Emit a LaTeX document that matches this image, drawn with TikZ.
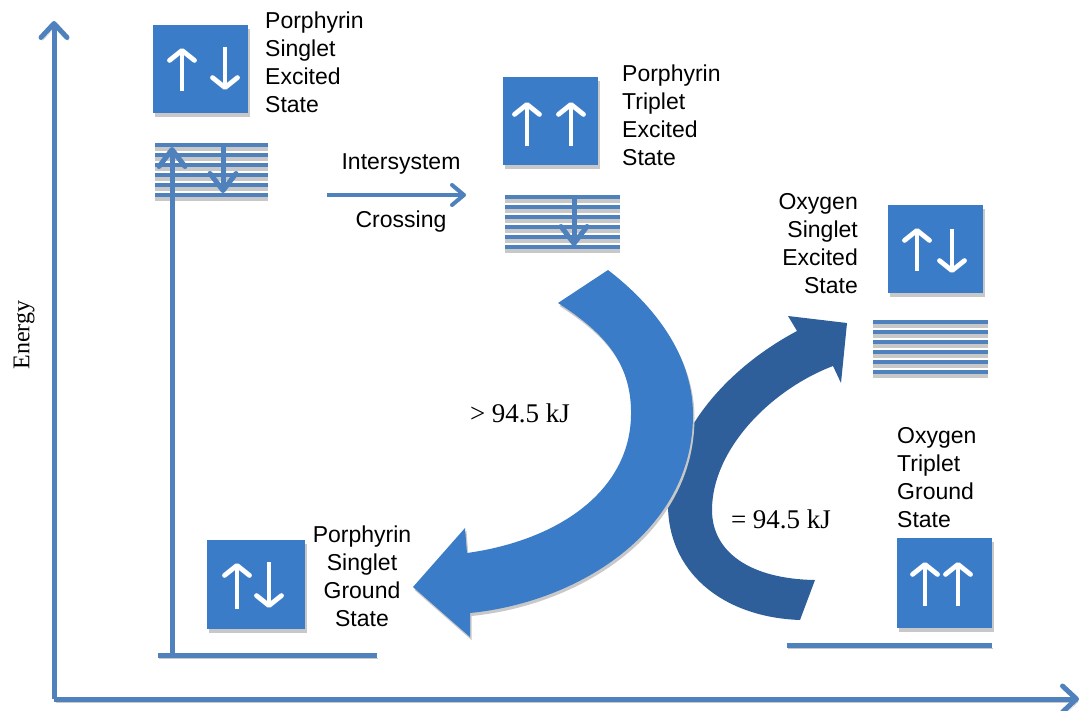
\documentclass[tikz,border=0pt]{standalone}
\usepackage{fontspec}
\setmainfont{Liberation Sans}
\newfontfamily\tms{Liberation Serif}
\usetikzlibrary{arrows.meta}
\definecolor{boxblue}{RGB}{59,124,200}
\definecolor{lineblue}{RGB}{79,129,189}
\definecolor{darkarrow}{RGB}{46,95,154}
\definecolor{shd}{RGB}{200,200,200}
\begin{document}
\begin{tikzpicture}[x=1pt,y=-1pt,
  box/.style={fill=boxblue, draw=none, minimum width=95pt, minimum height=88pt, inner sep=0pt,
    preaction={fill=shd, transform canvas={shift={(2,4)}}}},
  wa/.style={white, line width=4.8pt, -{Straight Barb[length=10pt,width=25pt,round]}},
  axis/.style={lineblue, line width=5pt, -{Straight Barb[length=14pt,width=26pt,round]},
    preaction={draw=shd, transform canvas={shift={(1.5,3)}}}},
  barrow/.style={lineblue, line width=5pt, -{Straight Barb[length=17pt,width=26pt,round]}},
  gline/.style={lineblue, line width=5pt, preaction={draw=shd, transform canvas={shift={(1,3.5)}}}},
  lbl/.style={font=\fontsize{23}{28}\selectfont, inner sep=0pt},
  kj/.style={font=\tms\fontsize{27}{30}\selectfont, inner sep=0pt}
]
\useasboundingbox (0,0) rectangle (1081,710);

% axes
\coordinate (O) at (54,699);
\coordinate (ytop) at (54,21);
\coordinate (xend) at (1079,699);
\draw[axis] (O) -- (ytop);
\draw[axis] (O) -- (xend);
\node[rotate=90, font=\tms\fontsize{24}{28}\selectfont, inner sep=0pt] (energy) at (24,335) {Energy};

% striped levels
\foreach \xa/\xb/\ya in {155/268/145, 505/620/197, 873/988/322}{
  \foreach \i in {0,...,5}{
    \pgfmathsetmacro{\yy}{\ya+10*\i}
    \fill[shd] (\xa,\yy+2) rectangle (\xb,\yy+6);
    \fill[lineblue] (\xa,\yy-2) rectangle (\xb,\yy+2);
  }
}

% ground lines
\coordinate (g1a) at (158,655);
\coordinate (g1b) at (377,655);
\coordinate (g2a) at (787,645);
\coordinate (g2b) at (992,645);
\draw[gline] (g1a) -- (g1b);
\draw[gline] (g2a) -- (g2b);

% excitation and relaxation arrows
\coordinate (exs) at (172,655);
\coordinate (exe) at (172,147);
\draw[barrow] (exs) -- (exe);
\coordinate (r1s) at (223,145);
\coordinate (r1e) at (223,193);
\draw[barrow] (r1s) -- (r1e);
\coordinate (r2s) at (574,195);
\coordinate (r2e) at (574,246);
\draw[barrow] (r2s) -- (r2e);

% intersystem crossing
\coordinate (iscs) at (327,195);
\coordinate (isce) at (466,195);
\draw[lineblue, line width=4pt, -{Straight Barb[length=12pt,width=20pt,round]}] (iscs) -- (isce);
\node[lbl] (isc1) at (401,164) {Intersystem};
\node[lbl] (isc2) at (401,222) {Crossing};

% boxes
\node[box] (b1) at (200.5,69) {};
\node[box] (b2) at (550.5,121) {};
\node[box] (b3) at (935,249) {};
\node[box, minimum width=98pt, minimum height=89pt] (b4) at (256,584.5) {};
\node[box, minimum height=90pt] (b5) at (944.5,583) {};

% spin arrows
\draw[wa] (182,91) -- (182,48);
\draw[wa] (225,47) -- (225,90);
\draw[wa] (527,146) -- (527,102);
\draw[wa] (571,146) -- (571,102);
\draw[wa] (917,271) -- (917,228);
\draw[wa] (952,229) -- (952,273);
\draw[wa] (237,609) -- (237,563);
\draw[wa] (269,562) -- (269,608);
\draw[wa] (925,606) -- (925,562);
\draw[wa] (958,606) -- (958,562);

% labels
\node[lbl, align=left, anchor=north west] (t1) at (265,12) {Porphyrin\\Singlet\\Excited\\State};
\node[lbl, align=left, anchor=north west] (t2) at (622,65) {Porphyrin\\Triplet\\Excited\\State};
\node[lbl, align=right, anchor=north east] (t3) at (858,193) {Oxygen\\Singlet\\Excited\\State};
\node[lbl, align=left, anchor=north west] (t5) at (897,427) {Oxygen\\Triplet\\Ground\\State};
\node[lbl, align=center, anchor=north] (t4) at (362,526) {Porphyrin\\Singlet\\Ground\\State};

% dark curved arrow (oxygen excitation)
\fill[darkarrow]
  (800,620) .. controls (720,617) and (668,570) .. (668,505)
  .. controls (668,440) and (720,372) .. (797,331)
  -- (788,316) -- (847,323) -- (841,383) -- (833,366)
  .. controls (770,390) and (712,450) .. (712,510)
  .. controls (712,552) and (750,579) .. (815,580) -- cycle;

% light curved arrow (porphyrin relaxation)
\fill[boxblue, preaction={fill=shd, transform canvas={shift={(1.5,3)}}}]
  (558,303) -- (608,270)
  .. controls (660,310) and (693,360) .. (693,415)
  .. controls (693,530) and (580,602) .. (470,613)
  -- (470,637) -- (413,587) -- (465,528) -- (467,553)
  .. controls (560,540) and (630,490) .. (631,415)
  .. controls (632,360) and (600,330) .. (558,303) -- cycle;

\node[kj] (e1) at (520,413) {> 94.5 kJ};
\node[kj] (e2) at (781,519) {= 94.5 kJ};
\end{tikzpicture}
\end{document}
